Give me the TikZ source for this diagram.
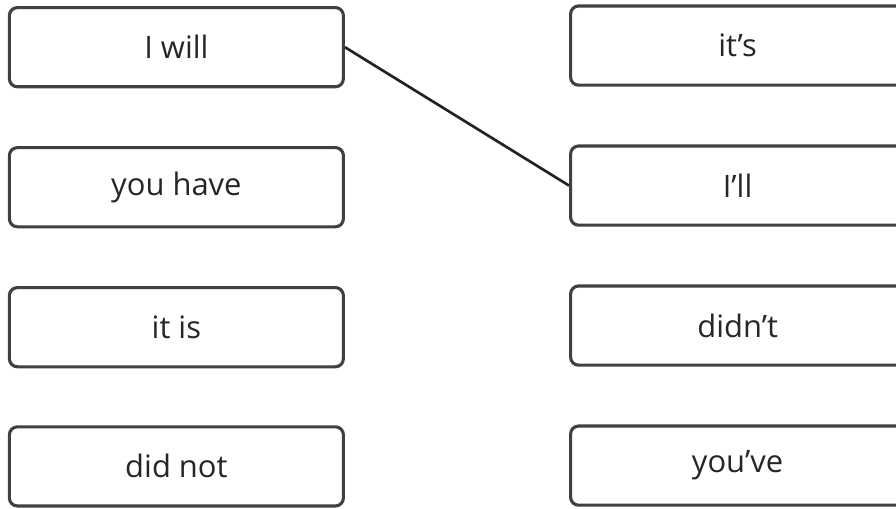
\documentclass[tikz,border=0pt]{standalone}
\usepackage{fontspec}
\setmainfont{Open Sans}
\usetikzlibrary{positioning}
\definecolor{rahmen}{RGB}{64,64,64}
\definecolor{linie}{RGB}{34,34,34}

\begin{document}
\begin{tikzpicture}[
	wortbox/.style={draw=rahmen, line width=2.2pt, rounded corners=0.2cm, fill=white,
		minimum width=8.35cm, minimum height=1.98cm, inner sep=0pt,
		font=\fontsize{22}{26}\selectfont, text=black!85},
	]

	\useasboundingbox (0,0) rectangle (22.4,12.7);
	\clip (0,0) rectangle (22.4,12.7);

	% linke Spalte
	\foreach \i/\y/\wort in {1/11.52/{I will},2/8.02/{you have},3/4.52/{it is},4/1.04/{did not}}{
		\node[wortbox] (l\i) at (4.41,\y) {\wort};
	}
	% rechte Spalte
	\foreach \i/\y/\wort in {1/11.56/{it’s},2/8.06/{I’ll},3/4.56/{didn’t},4/1.06/{you’ve}}{
		\node[wortbox] (r\i) at (18.44,\y) {\wort};
	}

	\draw[linie, line width=1.9pt] (l1.east) -- (r2.west);

\end{tikzpicture}
\end{document}
